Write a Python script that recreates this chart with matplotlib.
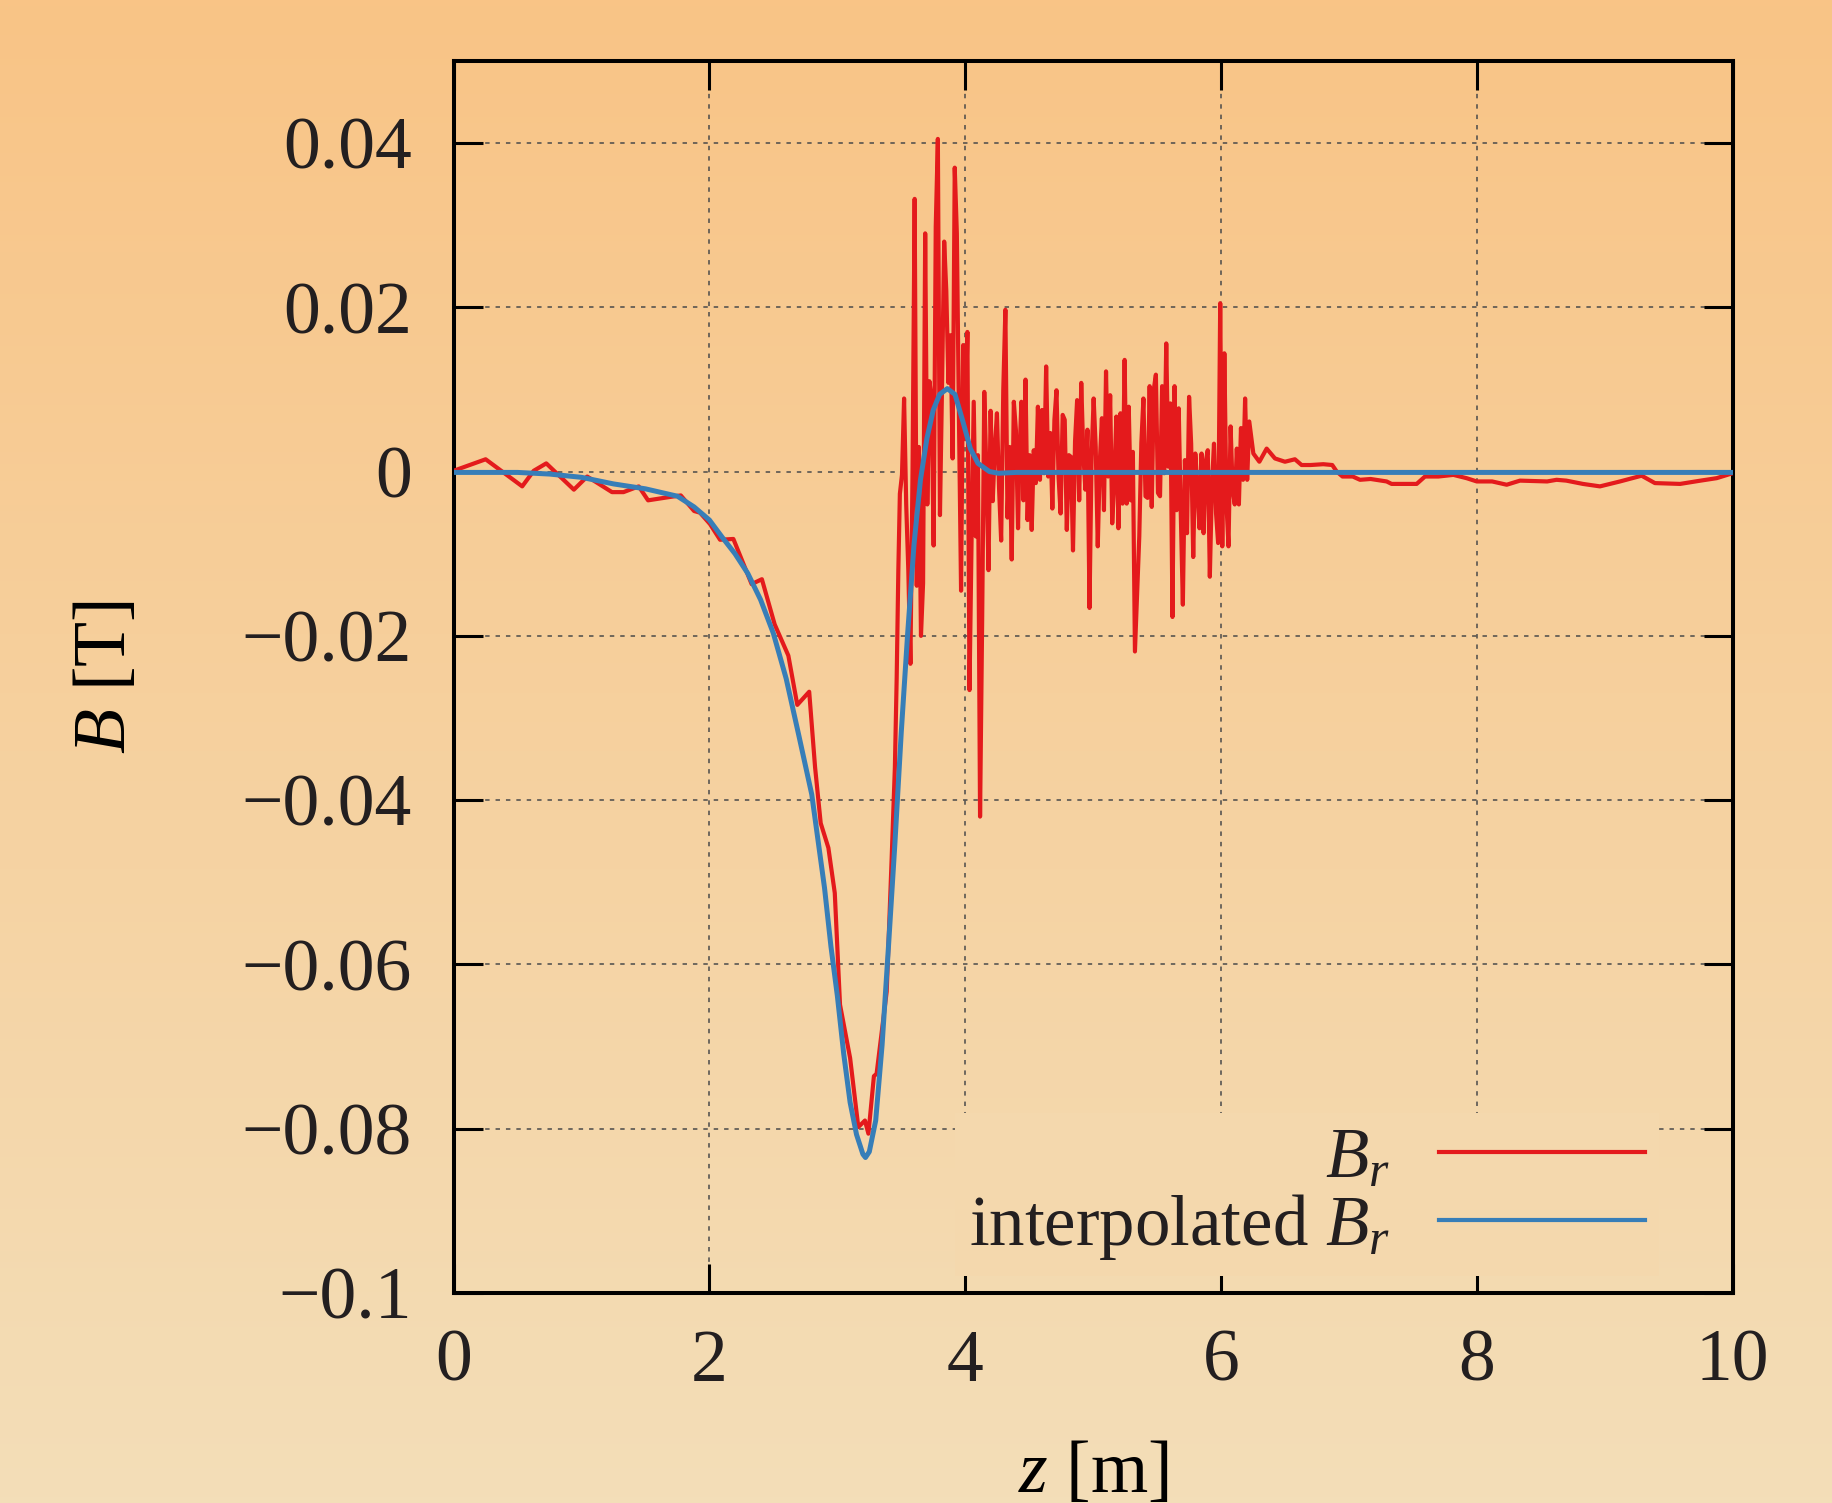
import numpy as np
import matplotlib
matplotlib.use("Agg")
import matplotlib.pyplot as plt
from matplotlib.colors import LinearSegmentedColormap

# measured B_r, smooth part up to the start of the noisy region
z_head = [0.0, 0.25, 0.536, 0.626, 0.724, 0.94, 1.044, 1.238, 1.328, 1.447,
          1.52, 1.686, 1.776, 1.88, 1.926, 2.005, 2.083, 2.187, 2.33, 2.41,
          2.51, 2.617, 2.687, 2.78, 2.826, 2.87, 2.93, 2.98, 3.021, 3.10,
          3.164, 3.216, 3.243, 3.286, 3.307, 3.386, 3.425, 3.45, 3.464, 3.477]
br_head = [0.0001, 0.0015, -0.0018, 0.0001, 0.0010, -0.0022, -0.0006, -0.0025, -0.0025, -0.0018,
           -0.0035, -0.0031, -0.0029, -0.0048, -0.0050, -0.0064, -0.0083, -0.0082, -0.0137, -0.0131,
           -0.0186, -0.0224, -0.0284, -0.0268, -0.0360, -0.0428, -0.0458, -0.0513, -0.0649, -0.0714,
           -0.0798, -0.0790, -0.0806, -0.0736, -0.0733, -0.0633, -0.0470, -0.0360, -0.0252, -0.0120]

# noisy region, read stroke by stroke in three blocks
z_noise_a = (3.489, 4.413)
br_noise_a = [-0.0027, -0.0004, 0.0089, -0.0040, -0.0120, -0.0234, 0.0000, 0.0332, -0.0139, 0.0030,
              -0.0200, -0.0136, 0.0290, -0.0040, 0.0110, 0.0090, -0.0090, 0.0298, 0.0405, -0.0053,
              0.0108, 0.0280, 0.0220, 0.0108, 0.0166, 0.0016, 0.0370, 0.0290, 0.0065, -0.0145,
              0.0154, 0.0040, 0.0170, -0.0266, -0.0079, 0.0085, -0.0079, 0.0020, -0.0420, -0.0180,
              0.0097, 0.0000, -0.0120, 0.0074, -0.0036, 0.0028, 0.0071, -0.0020, -0.0084, 0.0099,
              0.0197, -0.0056, 0.0030, -0.0107, 0.0085, 0.0050, -0.0069]
z_noise_b = (4.423, 5.327)
br_noise_b = [0.0013, 0.0085, -0.0035, 0.0112, -0.0059, 0.0020, -0.0071, 0.0026, -0.0014, 0.0079,
              -0.0010, 0.0075, -0.0002, 0.0128, -0.0006, 0.0047, -0.0045, 0.0063, 0.0099, -0.0006,
              -0.0051, 0.0069, 0.0063, -0.0071, 0.0020, 0.0018, -0.0096, 0.0037, 0.0087, -0.0035,
              0.0108, 0.0022, -0.0022, 0.0051, -0.0166, 0.0018, 0.0089, 0.0030, -0.0091, 0.0012,
              0.0065, -0.0047, 0.0122, -0.0006, 0.0093, -0.0063, -0.0010, 0.0067, -0.0069, 0.0071,
              -0.0039, 0.0136, -0.0039, 0.0079, -0.0035, 0.0024, -0.0219]
z_noise_c = (5.361, 6.221)
br_noise_c = [-0.0079, 0.0035, 0.0089, -0.0030, -0.0032, 0.0104, -0.0043, 0.0100, 0.0118, -0.0026,
              -0.0030, 0.0104, -0.0002, 0.0156, 0.0006, 0.0083, -0.0177, 0.0104, -0.0047, 0.0077,
              -0.0051, -0.0162, 0.0014, -0.0075, 0.0091, 0.0034, -0.0104, 0.0022, -0.0018, -0.0069,
              0.0022, -0.0075, 0.0012, 0.0026, -0.0128, -0.0018, 0.0034, -0.0051, -0.0087, 0.0205,
              -0.0091, 0.0144, -0.0039, -0.0091, 0.0055, -0.0022, -0.0040, 0.0028, -0.0040, 0.0053,
              -0.0010, 0.0089, -0.0010, 0.0061]

# measured B_r after the noisy region
z_tail = [6.253, 6.30, 6.357, 6.422, 6.50, 6.578, 6.63, 6.70, 6.80, 6.87,
          6.905, 6.95, 7.03, 7.087, 7.17, 7.295, 7.334, 7.53, 7.595, 7.70,
          7.817, 7.92, 8.0, 8.12, 8.234, 8.338, 8.55, 8.624, 8.70, 8.83,
          8.963, 9.12, 9.289, 9.393, 9.59, 9.75, 9.876, 10.0]
br_tail = [0.0022, 0.0012, 0.0028, 0.0016, 0.0012, 0.0015, 0.0008, 0.0008, 0.0009, 0.0008,
           0.0000, -0.0006, -0.0006, -0.0010, -0.0009, -0.0012, -0.0015, -0.0015, -0.0006, -0.0006,
           -0.0004, -0.0008, -0.0012, -0.0012, -0.0016, -0.0011, -0.0012, -0.0010, -0.0011, -0.0015,
           -0.0018, -0.0012, -0.0005, -0.0014, -0.0015, -0.0011, -0.0008, -0.0002]

# interpolated B_r
z_fit = [0.0, 0.25, 0.5, 0.75, 1.0, 1.25, 1.5, 1.75, 1.88, 2.0,
         2.1, 2.2, 2.3, 2.4, 2.5, 2.6, 2.7, 2.8, 2.9, 2.95,
         3.0, 3.05, 3.1, 3.15, 3.2, 3.22, 3.25, 3.3, 3.35, 3.4,
         3.45, 3.5, 3.55, 3.6, 3.65, 3.7, 3.75, 3.8, 3.86, 3.92,
         3.98, 4.04, 4.1, 4.19, 4.26, 4.4, 5.0, 6.0, 7.0, 8.0,
         9.0, 10.0]
br_fit = [-0.0001, -0.0001, -0.0001, -0.0003, -0.0007, -0.0015, -0.0021, -0.0030, -0.0043, -0.0059,
          -0.0080, -0.0100, -0.0124, -0.0156, -0.0197, -0.0252, -0.0322, -0.0393, -0.0507, -0.0578,
          -0.0638, -0.0709, -0.0768, -0.0807, -0.0831, -0.0835, -0.0828, -0.0790, -0.0698, -0.0578,
          -0.0453, -0.0317, -0.0197, -0.0088, -0.0010, 0.0040, 0.0075, 0.0094, 0.0101, 0.0094,
          0.0062, 0.0028, 0.0010, 0.0000, -0.0002, -0.0001, -0.0001, -0.0001, -0.0001, -0.0001,
          -0.0001, -0.0001]

x_ticks = [0, 2, 4, 6, 8, 10]
x_tick_labels = ["0", "2", "4", "6", "8", "10"]
y_ticks = [-0.1, -0.08, -0.06, -0.04, -0.02, 0.0, 0.02, 0.04]
y_tick_labels = ["\u22120.1", "\u22120.08", "\u22120.06", "\u22120.04", "\u22120.02", "0", "0.02", "0.04"]

plt.rcParams["font.family"] = ["Liberation Serif", "DejaVu Serif"]
plt.rcParams["mathtext.fontset"] = "custom"
plt.rcParams["mathtext.rm"] = "Liberation Serif"
plt.rcParams["mathtext.it"] = "Liberation Serif:italic"
plt.rcParams["text.color"] = "#231f20"

TXT = "#231f20"
RED = "#e41a1c"
BLUE = "#377eb8"

z_red = np.concatenate([z_head,
                        np.linspace(*z_noise_a, len(br_noise_a)),
                        np.linspace(*z_noise_b, len(br_noise_b)),
                        np.linspace(*z_noise_c, len(br_noise_c)),
                        z_tail])
br_red = np.concatenate([br_head, br_noise_a, br_noise_b, br_noise_c, br_tail])

fig = plt.figure(figsize=(18.33, 15.03), dpi=100)

# vertical orange gradient behind everything
bg = fig.add_axes([0, 0, 1, 1], zorder=-10)
cmap = LinearSegmentedColormap.from_list("bg", ["#f9c486", "#f3deb8"])
bg.imshow(np.linspace(0, 1, 256)[:, None], aspect="auto", cmap=cmap,
          extent=[0, 1, 0, 1])
bg.axis("off")

ax = fig.add_axes([0.2475, 0.1397, 0.6977, 0.8198])
ax.set_facecolor("none")

ax.plot(z_red, br_red, color=RED, lw=3.0, label=r"$B_r$", zorder=3)
ax.plot(z_fit, br_fit, color=BLUE, lw=3.6, label=r"interpolated $B_r$", zorder=3.1)

ax.set_xlim(0, 10)
ax.set_ylim(-0.1, 0.05)
ax.set_xticks(x_ticks)
ax.set_xticklabels(x_tick_labels)
ax.set_yticks(y_ticks)
ax.set_yticklabels(y_tick_labels)

ax.tick_params(direction="in", length=21, width=2.2, top=True, right=True,
               labelsize=53, colors="black", labelcolor=TXT)
ax.tick_params(axis="x", pad=26)
ax.tick_params(axis="y", pad=30)
for s in ax.spines.values():
    s.set_linewidth(2.9)

ax.set_axisbelow(True)
ax.grid(True, color="#4a4a4a", lw=1.1, linestyle=(0, (2.9, 3.9)))

ax.set_xlabel(r"$z$ [m]", fontsize=53, va="baseline")
ax.xaxis.set_label_coords(0.5, -0.1615)
ax.set_ylabel(r"$B$ [T]", fontsize=53, va="center")
ax.yaxis.set_label_coords(-0.271, 0.5)

leg = ax.legend(loc="lower right", bbox_to_anchor=(0.9425, 0.0138), borderaxespad=0,
                markerfirst=False, fontsize=51, handlelength=2.9, handletextpad=0.7,
                labelspacing=0.0, borderpad=0.2, frameon=True, fancybox=False,
                facecolor="#f4d8ad", edgecolor="none", framealpha=1)
leg.set_zorder(2.5)
for h in leg.get_lines():
    h.set_linewidth(3.0)

fig.savefig("out.png", dpi=100)
